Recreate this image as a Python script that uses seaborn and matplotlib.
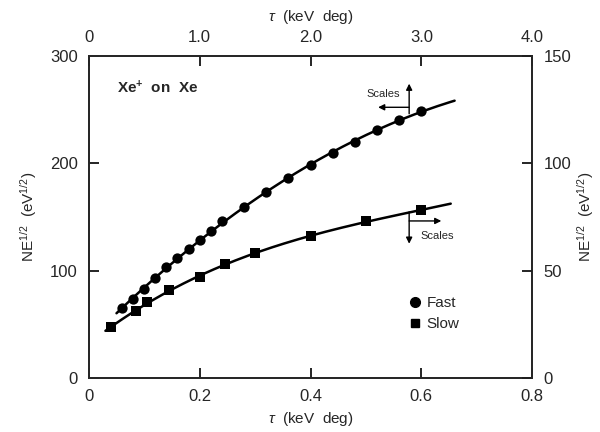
import numpy as np
import matplotlib
matplotlib.use("Agg")
import matplotlib.pyplot as plt
import seaborn as sns
from matplotlib.lines import Line2D

# Data
# Fast: top axis (tau, keV deg 0-4) and left axis (0-300)
fast_tau = [0.3, 0.4, 0.5, 0.6, 0.7, 0.8, 0.9, 1.0, 1.1, 1.2,
            1.4, 1.6, 1.8, 2.0, 2.2, 2.4, 2.6, 2.8, 3.0]
fast_ne = [65, 74, 83, 93, 103, 112, 120, 128, 137, 146,
           159, 173, 186, 198, 209, 220, 231, 240, 249]
fast_curve_range = [0.25, 3.3]

# Slow: bottom axis (tau, keV deg 0-0.8) and right axis (0-150)
slow_tau = [0.04, 0.085, 0.105, 0.145, 0.2, 0.245, 0.3, 0.4, 0.5, 0.6]
slow_ne = [23.6, 31.2, 35.3, 40.9, 47.0, 52.9, 58.0, 66.0, 73.0, 78.1]
slow_curve_range = [0.03, 0.653]

bottom_ticks = [0, 0.2, 0.4, 0.6, 0.8]
bottom_labels = ["0", "0.2", "0.4", "0.6", "0.8"]
top_ticks = [0, 1, 2, 3, 4]
top_labels = ["0", "1.0", "2.0", "3.0", "4.0"]
left_ticks = [0, 100, 200, 300]
right_ticks = [0, 50, 100, 150]

sns.set_style("ticks")
plt.rcParams["font.family"] = ["Liberation Sans", "DejaVu Sans"]
plt.rcParams["mathtext.fontset"] = "custom"
plt.rcParams["mathtext.rm"] = "Liberation Sans"
plt.rcParams["mathtext.it"] = "Liberation Sans:italic"
plt.rcParams["mathtext.bf"] = "Liberation Sans:bold"


def smooth_fit(x, y, span, deg=3):
    """Smooth curve through the measured points."""
    coef = np.polyfit(x, y, deg)
    xs = np.linspace(span[0], span[1], 200)
    return xs, np.polyval(coef, xs)


fig = plt.figure(figsize=(6.0, 4.32), dpi=100)
ax = fig.add_axes([0.148, 0.125, 0.739, 0.746])
ax_fast = ax.twiny()   # top x, left y
ax_slow = ax.twinx()   # bottom x, right y

ax.set_xlim(0, 0.8)
ax.set_ylim(0, 300)
ax_fast.set_xlim(0, 4)
ax_slow.set_ylim(0, 150)

lw = 1.8
xs, ys = smooth_fit(fast_tau, fast_ne, fast_curve_range, deg=2)
sns.lineplot(x=xs, y=ys, ax=ax_fast, color="black", lw=lw, sort=False)
sns.scatterplot(x=fast_tau, y=fast_ne, ax=ax_fast, color="black",
                marker="o", s=55, edgecolor="black", linewidth=0, zorder=3)

xs, ys = smooth_fit(slow_tau, slow_ne, slow_curve_range, deg=3)
sns.lineplot(x=xs, y=ys, ax=ax_slow, color="black", lw=lw, sort=False)
sns.scatterplot(x=slow_tau, y=slow_ne, ax=ax_slow, color="black",
                marker="s", s=45, edgecolor="black", linewidth=0, zorder=3)

tick_kw = dict(direction="in", length=7, width=1.2, pad=8,
               labelsize=12, color="black")
ax.set_xticks(bottom_ticks, bottom_labels)
ax.set_yticks(left_ticks)
ax.tick_params(axis="both", **tick_kw)
ax_fast.set_xticks(top_ticks, top_labels)
ax_fast.tick_params(axis="x", **tick_kw)
ax_slow.set_yticks(right_ticks)
ax_slow.tick_params(axis="y", **tick_kw)

for a in (ax, ax_fast, ax_slow):
    for sp in a.spines.values():
        sp.set_visible(True)
        sp.set_linewidth(1.1)

ax.set_xlabel(r"$\tau$  (keV  deg)", fontsize=11, labelpad=4)
ax_fast.set_xlabel(r"$\tau$  (keV  deg)", fontsize=11, labelpad=6)
ax.set_ylabel(r"NE$^{1/2}$  (eV$^{1/2}$)", fontsize=11, labelpad=8)
ax_slow.set_ylabel(r"NE$^{1/2}$  (eV$^{1/2}$)", fontsize=11, labelpad=3)

ax.text(0.063, 0.90, r"Xe$^{\mathbf{+}}$  on  Xe", transform=ax.transAxes,
        fontsize=11, fontweight="bold", va="center")

# "Scales" arrows
arrow_kw = dict(arrowstyle="-|>", color="black", lw=1.0, mutation_scale=9,
                shrinkA=0, shrinkB=0)
ax_fast.annotate("", xy=(2.89, 274), xytext=(2.89, 246), arrowprops=arrow_kw)
ax_fast.annotate("", xy=(2.61, 252), xytext=(2.89, 252), arrowprops=arrow_kw)
ax_fast.text(2.81, 264, "Scales", fontsize=8, ha="right", va="center")

ax_slow.annotate("", xy=(0.578, 62.5), xytext=(0.578, 77.3), arrowprops=arrow_kw)
ax_slow.annotate("", xy=(0.636, 73.1), xytext=(0.578, 73.1), arrowprops=arrow_kw)
ax_slow.text(0.598, 66, "Scales", fontsize=8, ha="left", va="center")

handles = [
    Line2D([], [], ls="none", marker="o", color="black", markersize=7),
    Line2D([], [], ls="none", marker="s", color="black", markersize=6),
]
ax.legend(handles, ["Fast", "Slow"], loc="center left",
          bbox_to_anchor=(0.69, 0.2), frameon=False, fontsize=11,
          handlelength=0.8, handletextpad=0.4, labelspacing=0.45)

fig.savefig("out.png", dpi=100)
